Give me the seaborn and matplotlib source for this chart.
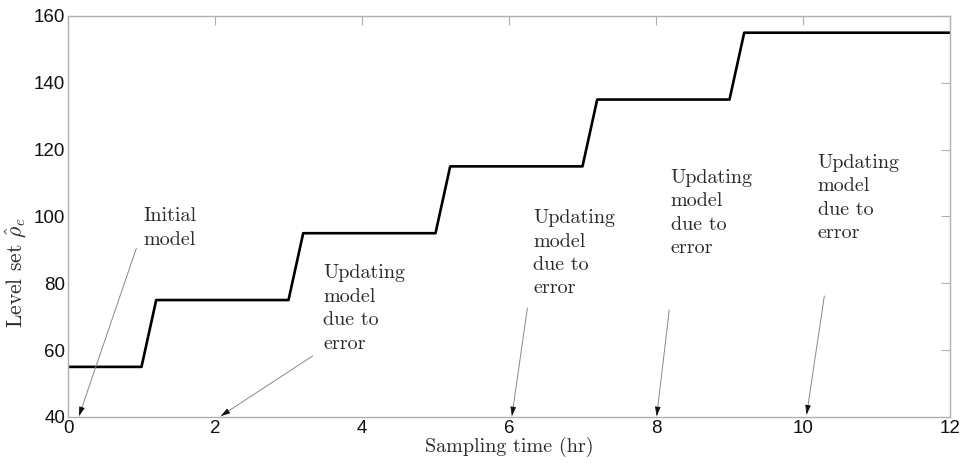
import matplotlib
matplotlib.use("Agg")
import matplotlib.pyplot as plt
import seaborn as sns
import pandas as pd

# Level-set trajectory (hr, level)
sample_time = [0, 1.0, 1.2, 3.0, 3.2, 5.0, 5.2, 7.0, 7.2, 9.0, 9.2, 12.0]
level_set = [55, 55, 75, 75, 95, 95, 115, 115, 135, 135, 155, 155]

x_ticks = [0, 2, 4, 6, 8, 10, 12]
y_ticks = [40, 60, 80, 100, 120, 140, 160]

# Annotation texts, text anchor (data coords), arrow tail and head
notes = ["Initial\nmodel",
         "Updating\nmodel\ndue to\nerror",
         "Updating\nmodel\ndue to\nerror",
         "Updating\nmodel\ndue to\nerror",
         "Updating\nmodel\ndue to\nerror"]
note_x = [1.02, 3.47, 6.33, 8.20, 10.20]
note_y = [96.5, 72.5, 89.0, 101.0, 105.5]
tail_x = [0.93, 3.33, 6.25, 8.18, 10.29]
tail_y = [90.5, 58.3, 72.6, 72.0, 76.2]
head_x = [0.15, 2.08, 6.04, 8.01, 10.05]
head_y = [40.3, 40.3, 40.3, 40.3, 40.8]

sns.set_theme(style="white")
plt.rcParams["mathtext.fontset"] = "cm"
plt.rcParams["font.family"] = ["Liberation Sans", "DejaVu Sans"]

fig, ax = plt.subplots(figsize=(9.63, 4.63), dpi=100)
fig.subplots_adjust(left=68 / 963, right=950 / 963,
                    bottom=1 - 417 / 463, top=1 - 16 / 463)

df = pd.DataFrame({"t": sample_time, "rho": level_set})
sns.lineplot(data=df, x="t", y="rho", sort=False, estimator=None,
             color="black", linewidth=1.9, ax=ax)

for txt, tx, ty, ax0, ay0, hx, hy in zip(notes, note_x, note_y,
                                         tail_x, tail_y, head_x, head_y):
    # thin grey shaft
    ax.annotate("", xy=(hx, hy), xytext=(ax0, ay0),
                arrowprops=dict(arrowstyle="-", color="#888888", lw=0.7,
                                shrinkA=0, shrinkB=0))
    # small dark arrow head at the time axis
    dx, dy = hx - ax0, hy - ay0
    ax.annotate("", xy=(hx, hy), xytext=(hx - 0.04 * dx, hy - 0.04 * dy),
                arrowprops=dict(arrowstyle="-|>,head_length=0.45,head_width=0.14",
                                color="#111111", lw=0.6,
                                shrinkA=0, shrinkB=0))
    ax.text(tx, ty, txt, family="cmr10", fontsize=14.5, color="#2a2a2a",
            ha="left", va="center", linespacing=1.4)

ax.set_xlim(0, 12)
ax.set_ylim(40, 160)
ax.set_xticks(x_ticks)
ax.set_yticks(y_ticks)
ax.tick_params(axis="both", direction="in", length=6.5, width=0.8,
               color="#b0b0b0", labelsize=13.5, labelcolor="#111111",
               top=True, right=True, pad=2)

for s in ax.spines.values():
    s.set_visible(True)
    s.set_color("#b0b0b0")
    s.set_linewidth(1.0)

ax.set_xlabel("Sampling time (hr)", family="cmr10", fontsize=14.5,
              color="#2a2a2a", labelpad=0)
ax.set_ylabel(r"Level set $\hat{\rho}_e$", family="cmr10", fontsize=15.5,
              color="#2a2a2a")
ax.yaxis.set_label_coords(-0.045, 0.36)

fig.savefig("out.png", dpi=100)
